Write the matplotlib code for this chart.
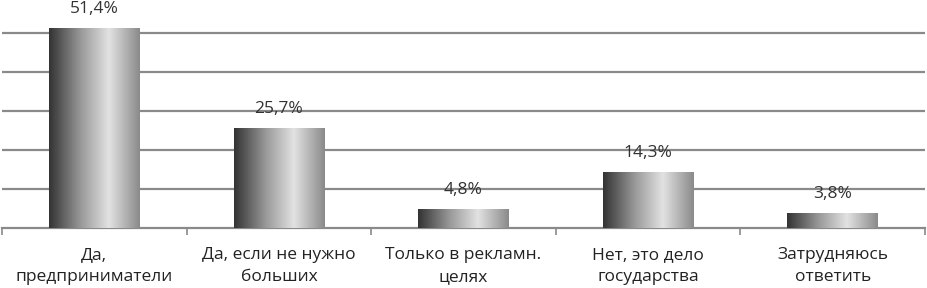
import matplotlib.pyplot as plt
import numpy as np
from matplotlib.colors import LinearSegmentedColormap

# data
categories = ['Да,\nпредприниматели', 'Да, если не нужно\nбольших',
              'Только в рекламн.\nцелях', 'Нет, это дело\nгосударства',
              'Затрудняюсь\nответить']
values = [51.4, 25.7, 4.8, 14.3, 3.8]
value_labels = ['51,4%', '25,7%', '4,8%', '14,3%', '3,8%']

plt.rcParams['font.family'] = ['Open Sans', 'DejaVu Sans']

fig = plt.figure(figsize=(9.27, 2.88), dpi=100)
ax = fig.add_axes([2 / 927, 60 / 288, 923 / 927, 228 / 288])

x = np.arange(len(categories))
bars = ax.bar(x, values, width=0.49, color='none', zorder=3)

# cylinder-like grey shading: dark left, bright at ~2/3, grey right
grad_cmap = LinearSegmentedColormap.from_list(
    'cyl', [(0.0, '#333333'), (0.35, '#999999'), (0.66, '#e2e2e2'), (1.0, '#8a8a8a')])
grad = np.linspace(0, 1, 256).reshape(1, -1)
for b in bars:
    x0, y0 = b.get_x(), b.get_y()
    w, h = b.get_width(), b.get_height()
    im = ax.imshow(grad, cmap=grad_cmap, aspect='auto', extent=(x0, x0 + w, y0, y0 + h),
                   zorder=3, interpolation='bilinear')
    im.set_clip_path(b)

for xi, v, lab in zip(x, values, value_labels):
    ax.annotate(lab, (xi, v), xytext=(0, 8), textcoords='offset points',
                ha='center', va='bottom', fontsize=12.5, color='#333333', zorder=4)

ax.set_xlim(-0.5, len(categories) - 0.5)
ax.set_ylim(0, 58.5)
ax.set_yticks([10, 20, 30, 40, 50])
ax.yaxis.grid(True, color='#8a8a8a', linewidth=1.6, zorder=0)
ax.tick_params(axis='y', left=False, labelleft=False)

# category labels centred in slots, ticks on the slot boundaries
ax.set_xticks(x)
ax.set_xticklabels(categories, fontsize=12.5, color='#222222', linespacing=1.5)
ax.tick_params(axis='x', length=0, pad=14)
ax.set_xticks(np.arange(-0.5, len(categories)), minor=True)
ax.tick_params(axis='x', which='minor', length=5, width=1.2, color='#8a8a8a', direction='out')

for s in ['top', 'right', 'left']:
    ax.spines[s].set_visible(False)
ax.spines['bottom'].set_color('#8a8a8a')
ax.spines['bottom'].set_linewidth(1.6)

fig.savefig('out.png', dpi=100)
